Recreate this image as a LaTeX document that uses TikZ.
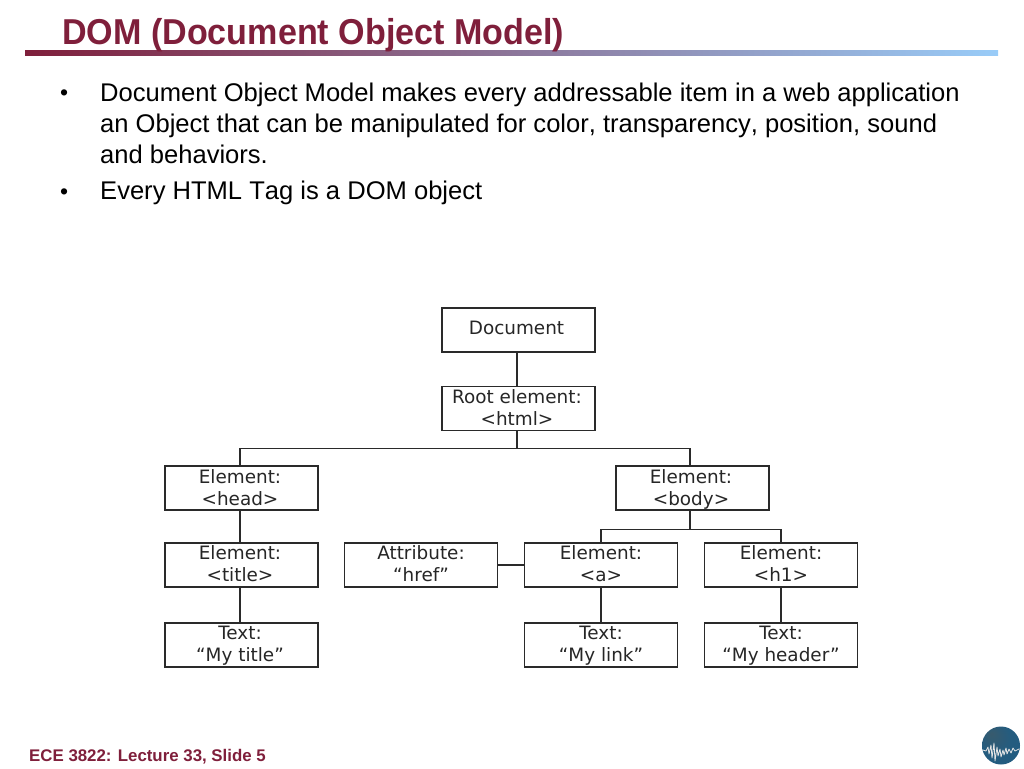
\documentclass[tikz,border=0pt]{standalone}
\usepackage{fontspec}
\setmainfont{Liberation Sans}[Kerning=Off]
\newfontfamily\boxfont{DejaVu Sans}
\newfontfamily\titlefont{Liberation Sans}[FakeStretch=0.947,Kerning=Off,BoldFont={Liberation Sans Bold}]
\definecolor{titlered}{HTML}{7F1F3B}
\definecolor{barblue}{HTML}{99CCF8}
\definecolor{boxline}{HTML}{2A2A2A}
\pgfdeclareradialshading{globeshade}{\pgfpoint{-13bp}{16bp}}{
  color(0bp)=(rgb:red,0.42;green,0.68;blue,0.82);
  color(20bp)=(rgb:red,0.18;green,0.45;blue,0.62);
  color(42bp)=(rgb:red,0.12;green,0.34;blue,0.48);
  color(50bp)=(rgb:red,0.05;green,0.18;blue,0.28)}
\newcommand{\twolines}[3][14.8pt]{\rule{0pt}{#1}\smash{#2}\\\rule[-2pt]{0pt}{2pt}\smash{#3}}
\tikzset{
  x=1pt,y=-1pt,
  dombox/.style={draw=boxline,line width=1.2pt,minimum width=153pt,minimum height=44pt,inner sep=0pt,
    align=center,font=\boxfont\fontsize{18.4}{22}\selectfont,text=black!85},
  link/.style={draw=boxline,line width=1.2pt},
  bodytext/.style={anchor=base west,inner sep=0pt,font=\fontsize{25.56}{31}\selectfont,text=black},
  bullet/.style={anchor=base west,inner sep=0pt,font=\fontsize{23}{31}\selectfont,text=black},
}
\begin{document}
\begin{tikzpicture}
\useasboundingbox (0,0) rectangle (1024,768);
% title and rule
\fill[left color=titlered,right color=barblue,middle color=titlered!50!barblue] (25,51) rectangle (998,56);
\node[anchor=base west,inner sep=0pt,text=titlered] (title) at (62,45)
  {\fontsize{36}{38}\selectfont\titlefont\bfseries DOM (Document Object Model)};
% bullets
\node[bullet] (b1) at (60,100) {•};
\node[bodytext] (t1) at (100,101) {Document Object Model makes every addressable item in a web application};
\node[bodytext] (t2) at (100,132) {an Object that can be manipulated for color, transparency, position, sound};
\node[bodytext] (t3) at (100,163) {and behaviors.};
\node[bullet] (b2) at (60,199) {•};
\node[bodytext] (t4) at (100,199) {Every HTML Tag is a DOM object};
% tree
\node[dombox] (doc)   at (518.5,330) {\raisebox{4.5pt}{\hspace*{-4pt}Document}};
\node[dombox] (root)  at (518.5,408.5) {\twolines{\hspace*{-3pt}Root element:}{\hspace*{-3pt}\textless html\textgreater}};
\node[dombox] (head)  at (241.5,488) {\twolines{\hspace*{-3pt}Element:}{\hspace*{-3pt}\textless head\textgreater}};
\node[dombox] (body)  at (692.5,488) {\twolines{\hspace*{-3pt}Element:}{\hspace*{-3pt}\textless body\textgreater}};
\node[dombox] (ttl)   at (241.5,565) {\twolines[12.8pt]{\hspace*{-3pt}Element:}{\hspace*{-3pt}\textless title\textgreater}};
\node[dombox] (attr)  at (421,565) {\twolines[12.8pt]{Attribute:}{“href”}};
\node[dombox] (a)     at (601,565) {\twolines[12.8pt]{Element:}{\textless a\textgreater}};
\node[dombox] (h1)    at (781,565) {\twolines[12.8pt]{Element:}{\textless h1\textgreater}};
\node[dombox] (txt1)  at (241.5,645) {\twolines[12.8pt]{\hspace*{-3pt}Text:}{\hspace*{-3pt}“My title”}};
\node[dombox] (txt2)  at (601,645) {\twolines[12.8pt]{Text:}{“My link”}};
\node[dombox] (txt3)  at (781,645) {\twolines[12.8pt]{Text:}{“My header”}};
\draw[link] ([xshift=-1.5pt]doc.south) -- ([xshift=-1.5pt]root.north);
\draw[link] ([xshift=-1.5pt]root.south) -- ++(0,17) coordinate (bus1);
\draw[link] ([xshift=-1.5pt]head.north) |- (bus1) -| ([xshift=-2.5pt]body.north);
\draw[link] ([xshift=-1.5pt]head.south) -- ([xshift=-1.5pt]ttl.north);
\draw[link] ([xshift=-1.5pt]ttl.south) -- ([xshift=-1.5pt]txt1.north);
\draw[link] ([xshift=-2.5pt]body.south) -- ++(0,19) coordinate (bus2);
\draw[link] (a.north) |- (bus2) -| (h1.north);
\draw[link] (attr.east) -- (a.west);
\draw[link] (a.south) -- (txt2.north);
\draw[link] (h1.south) -- (txt3.north);
% footer
\node[anchor=base west,inner sep=0pt,text=titlered] (foot) at (29,761)
  {\fontsize{16.85}{18}\selectfont\bfseries ECE 3822: Lecture 33, Slide 5};
% globe
\shade[shading=globeshade] (1001,745.5) circle (19);
\draw[black!10,line width=0.8pt,line join=round] (983,750) -- (986,751) -- (988,747) -- (989,754) -- (991,745) -- (992,758) -- (994,743) -- (995,761) -- (997,747) -- (998,756) -- (1000,749) -- (1001,757) -- (1003,750) -- (1004,755) -- (1006,748) -- (1007,754) -- (1009,749) -- (1011,753) -- (1013,748) -- (1015,751) -- (1019,749);
\end{tikzpicture}
\end{document}
